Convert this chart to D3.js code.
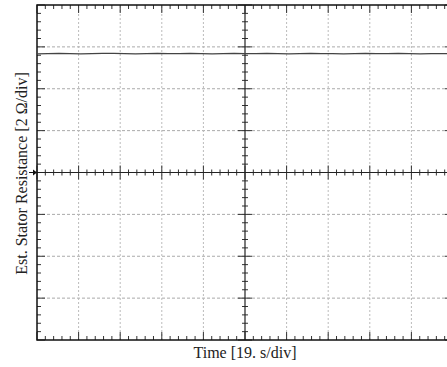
<!DOCTYPE html>
<html>
<head>
<meta charset="utf-8">
<script src="https://cdn.jsdelivr.net/npm/d3@7"></script>
<style>
  body { margin: 0; background: #fff; }
  svg { display: block; }
  text { font-family: "Liberation Serif", "DejaVu Serif", serif; fill: #222; }
</style>
</head>
<body>
<div id="chart"></div>
<script>
// time in seconds, 19 s/div, 10 divisions
let timeValues = [0, 5, 10, 15, 20, 25, 30, 35, 40, 45, 50, 55, 60, 65, 70, 75, 80, 85, 90, 95,
    100, 105, 110, 115, 120, 125, 130, 135, 140, 145, 150, 155, 160, 165, 170, 175, 180, 185, 190];
// estimated stator resistance (ohm), 2 ohm/div
let resistance = [5.67, 5.68, 5.69, 5.68, 5.67, 5.68, 5.69, 5.69, 5.68, 5.67, 5.68, 5.69, 5.68, 5.68, 5.69, 5.68, 5.67, 5.68, 5.69, 5.68,
    5.68, 5.69, 5.68, 5.67, 5.68, 5.69, 5.68, 5.68, 5.67, 5.68, 5.69, 5.68, 5.68, 5.69, 5.68, 5.67, 5.68, 5.68, 5.68];
let xLabel = "Time [19. s/div]";
let yLabel = "Est. Stator Resistance [2 \u03A9/div]";

let svgWidth = 447, svgHeight = 367;
let margin = {top: 5, left: 37};
let plotW = 416, plotH = 335;
let xDivs = 10, yDivs = 8;

let x = d3.scaleLinear().domain([0, 190]).range([margin.left, margin.left + plotW]);
let y = d3.scaleLinear().domain([-8, 8]).range([margin.top + plotH, margin.top]);

let svg = d3.select("#chart").append("svg")
    .attr("width", svgWidth)
    .attr("height", svgHeight);

let xDivVals = d3.range(0, xDivs + 1).map(function(i) { return i * 19; });
let yDivVals = d3.range(0, yDivs + 1).map(function(i) { return -8 + i * 2; });
let xMinor = d3.range(0, xDivs * 5 + 1).map(function(i) { return i * 19 / 5; });
let yMinor = d3.range(0, yDivs * 5 + 1).map(function(i) { return -8 + i * 2 / 5; });

// grid
svg.append("g").selectAll("line")
    .data(yDivVals.filter(function(d) { return d != 0 && d != -8 && d != 8; }))
    .enter().append("line")
    .attr("x1", x(0)).attr("x2", x(190))
    .attr("y1", function(d) { return y(d); })
    .attr("y2", function(d) { return y(d); })
    .attr("stroke", "#aaa").attr("stroke-width", 1)
    .attr("stroke-dasharray", "3,2");

svg.append("g").selectAll("line")
    .data(xDivVals.filter(function(d) { return d != 95 && d != 0 && d != 190; }))
    .enter().append("line")
    .attr("y1", y(-8)).attr("y2", y(8))
    .attr("x1", function(d) { return x(d); })
    .attr("x2", function(d) { return x(d); })
    .attr("stroke", "#bbb").attr("stroke-width", 1)
    .attr("stroke-dasharray", "2,2");

// ticks on frame edges and center axes
let ticks = svg.append("g").attr("stroke", "#333").attr("stroke-width", 1);
function isMajorX(d) { return Math.abs(d / 19 - Math.round(d / 19)) < 1e-6; }
function isMajorY(d) { return Math.abs(d / 2 - Math.round(d / 2)) < 1e-6; }

xMinor.forEach(function(d) {
    let len = isMajorX(d) ? 8 : 4;
    let c = isMajorX(d) ? 7 : 3;
    ticks.append("line").attr("x1", x(d)).attr("x2", x(d)).attr("y1", y(8)).attr("y2", y(8) + len);
    ticks.append("line").attr("x1", x(d)).attr("x2", x(d)).attr("y1", y(-8)).attr("y2", y(-8) - len);
    ticks.append("line").attr("x1", x(d)).attr("x2", x(d)).attr("y1", y(0) - c).attr("y2", y(0) + c);
});
yMinor.forEach(function(d) {
    let len = isMajorY(d) ? 8 : 4;
    let c = isMajorY(d) ? 7 : 3;
    ticks.append("line").attr("y1", y(d)).attr("y2", y(d)).attr("x1", x(0)).attr("x2", x(0) + len);
    ticks.append("line").attr("y1", y(d)).attr("y2", y(d)).attr("x1", x(190)).attr("x2", x(190) - len);
    ticks.append("line").attr("y1", y(d)).attr("y2", y(d)).attr("x1", x(95) - c).attr("x2", x(95) + c);
});

// center cross
svg.append("line").attr("x1", x(0)).attr("x2", x(190)).attr("y1", y(0)).attr("y2", y(0))
    .attr("stroke", "#222").attr("stroke-width", 1.2);
svg.append("line").attr("x1", x(95)).attr("x2", x(95)).attr("y1", y(-8)).attr("y2", y(8))
    .attr("stroke", "#222").attr("stroke-width", 1.2);

// frame
svg.append("rect")
    .attr("x", x(0)).attr("y", y(8))
    .attr("width", x(190) - x(0)).attr("height", y(-8) - y(8))
    .attr("fill", "none").attr("stroke", "#111").attr("stroke-width", 1.5);

// ground marker arrow
svg.append("line").attr("x1", x(0) - 8).attr("x2", x(0) - 2).attr("y1", y(0)).attr("y2", y(0))
    .attr("stroke", "#111").attr("stroke-width", 1);
svg.append("path")
    .attr("d", "M" + (x(0) - 4) + "," + (y(0) - 3) + "L" + x(0) + "," + y(0) + "L" + (x(0) - 4) + "," + (y(0) + 3) + "Z")
    .attr("fill", "#111");

// trace
let line = d3.line()
    .x(function(d, i) { return x(timeValues[i]); })
    .y(function(d) { return y(d); });
svg.append("path")
    .datum(resistance)
    .attr("d", line)
    .attr("fill", "none")
    .attr("stroke", "#444")
    .attr("stroke-width", 1.2);

// labels
svg.append("text")
    .attr("x", x(95)).attr("y", 358)
    .attr("text-anchor", "middle")
    .attr("font-size", "16px")
    .text(xLabel);

svg.append("text")
    .attr("transform", "translate(27," + (y(0) + 1) + ") rotate(-90)")
    .attr("text-anchor", "middle")
    .attr("font-size", "16px")
    .text(yLabel);
</script>
</body>
</html>
